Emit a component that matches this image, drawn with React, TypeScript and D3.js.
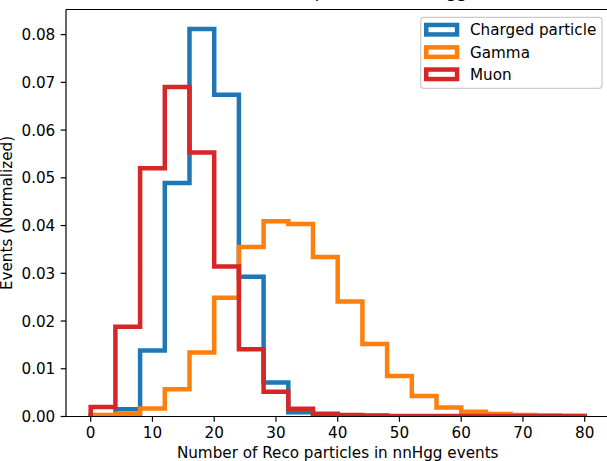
import React from "react";
import * as d3 from "d3";

const binEdges = [0, 4, 8, 12, 16, 20, 24, 28, 32, 36, 40, 44, 48, 52, 56, 60, 64, 68, 72, 76, 80];
const chargedValues = [0.0002, 0.0015, 0.0138, 0.0489, 0.0812, 0.0674, 0.0293, 0.0071, 0.0009, 0.0002, 0.0001, 0.0001, 0, 0, 0, 0, 0, 0, 0, 0];
const gammaValues = [0.0003, 0.0006, 0.0017, 0.0057, 0.0134, 0.0249, 0.0355, 0.0409, 0.0403, 0.0334, 0.0241, 0.0152, 0.0085, 0.0043, 0.0019, 0.001, 0.0005, 0.0003, 0.0002, 0.0001];
const muonValues = [0.002, 0.0188, 0.052, 0.069, 0.0553, 0.0314, 0.0141, 0.0052, 0.0016, 0.0006, 0.0003, 0.0002, 0.0001, 0.0001, 0.0001, 0.0001, 0.0001, 0.0001, 0.0001, 0.0001];
const seriesNames = ["Charged particle", "Gamma", "Muon"];
const seriesColors = ["#1f77b4", "#ff7f0e", "#d62728"];
const xTicks = [0, 10, 20, 30, 40, 50, 60, 70, 80];
const yTicks = [0, 0.01, 0.02, 0.03, 0.04, 0.05, 0.06, 0.07, 0.08];
const titleText = "Number of Reco particles in nnHgg events";
const xLabel = "Number of Reco particles in nnHgg events";
const yLabel = "Events (Normalized)";

const W = 607;
const H = 461;
const left = 66;
const top = 9.5;
const bottom = 416.5;
const right = 609.4;
const FONT = "DejaVu Sans, sans-serif";
const FS = 15.2;
const TICK = 5.35;
const SPINE = 1.2;
const LW = 4.5;

export default function App() {
  const allSeries = [chargedValues, gammaValues, muonValues];
  const maxV = d3.max(allSeries.flat()) as number;
  const x = d3.scaleLinear().domain([-4, 84]).range([left, right]);
  const y = d3.scaleLinear().domain([0, maxV * 1.05]).range([bottom, top]);

  const line = d3
    .line<[number, number]>()
    .x((d) => x(d[0]))
    .y((d) => y(d[1]));

  const makePts = (vals: number[]): [number, number][] => {
    const pts: [number, number][] = [[binEdges[0], 0]];
    vals.forEach((v, i) => {
      pts.push([binEdges[i], v]);
      pts.push([binEdges[i + 1], v]);
    });
    pts.push([binEdges[binEdges.length - 1], 0]);
    return pts;
  };

  const cx = (left + right) / 2;
  const cy = (top + bottom) / 2;
  const legX = 420.7;
  const legY = 17.3;
  const legW = 181.3;
  const legH = 71;
  const rowY = [29.7, 52.1, 74.3];

  return (
    <svg width={W} height={H} style={{ position: "absolute", left: 0, top: 0, background: "#fff" }} fontFamily={FONT}>
      <defs>
        <clipPath id="axclip">
          <rect x={left} y={top} width={right - left} height={bottom - top} />
        </clipPath>
      </defs>
      <rect x={0} y={0} width={W} height={H} fill="#fff" />
      <text x={352} y={-2} textAnchor="middle" fontSize={16.7} fill="#000">
        {titleText}
      </text>
      <g clipPath="url(#axclip)">
        {allSeries.map((vals, i) => (
          <path
            key={seriesNames[i]}
            d={line(makePts(vals)) || ""}
            fill="none"
            stroke={seriesColors[i]}
            strokeWidth={LW}
            strokeLinejoin="miter"
          />
        ))}
      </g>
      {/* spines */}
      <g stroke="#000" strokeWidth={SPINE} fill="none">
        <line x1={left} x2={left} y1={top} y2={bottom} />
        <line x1={right} x2={right} y1={top} y2={bottom} />
        <line x1={left} x2={right} y1={top} y2={top} />
        <line x1={left} x2={right} y1={bottom} y2={bottom} />
      </g>
      {/* x ticks */}
      {xTicks.map((t) => (
        <g key={"x" + t}>
          <line x1={x(t)} x2={x(t)} y1={bottom} y2={bottom + TICK} stroke="#000" strokeWidth={SPINE} />
          <text x={x(t)} y={438} textAnchor="middle" fontSize={FS} fill="#000">
            {t}
          </text>
        </g>
      ))}
      {/* y ticks */}
      {yTicks.map((t) => (
        <g key={"y" + t}>
          <line x1={left - TICK} x2={left} y1={y(t)} y2={y(t)} stroke="#000" strokeWidth={SPINE} />
          <text x={left - 2 * TICK} y={y(t) + 5.5} textAnchor="end" fontSize={FS} fill="#000">
            {d3.format(".2f")(t)}
          </text>
        </g>
      ))}
      <text x={cx} y={457.5} textAnchor="middle" fontSize={FS} fill="#000">
        {xLabel}
      </text>
      <text
        transform={`translate(12,${cy}) rotate(-90)`}
        textAnchor="middle"
        fontSize={FS}
        fill="#000"
      >
        {yLabel}
      </text>
      {/* legend */}
      <rect x={legX} y={legY} width={legW} height={legH} rx={3} fill="#fff" fillOpacity={0.8} stroke="#cccccc" strokeWidth={1.2} />
      {seriesNames.map((name, i) => (
        <g key={"leg" + name}>
          <rect x={426.25} y={rowY[i] - 4.75} width={30.8} height={9.5} fill="none" stroke={seriesColors[i]} strokeWidth={LW} />
          <text x={470} y={rowY[i] + 5.5} fontSize={FS} fill="#000">
            {name}
          </text>
        </g>
      ))}
    </svg>
  );
}
